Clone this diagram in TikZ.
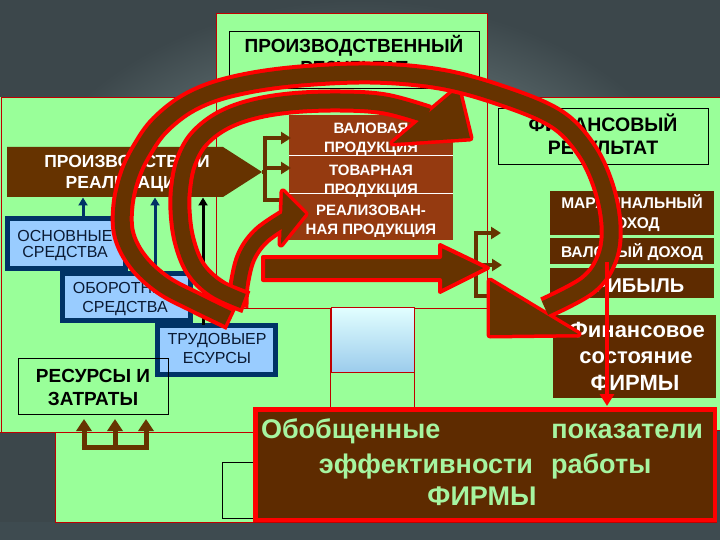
\documentclass[tikz,border=0pt]{standalone}
\usepackage{fontspec}
\setmainfont{Liberation Sans}
\usetikzlibrary{arrows.meta}
\definecolor{grn}{HTML}{99FF99}
\definecolor{brn}{HTML}{663300}
\definecolor{brbox}{HTML}{5E2B00}
\definecolor{stk}{HTML}{953A10}
\definecolor{redc}{HTML}{FF0000}
\definecolor{pline}{HTML}{C00000}
\definecolor{lblue}{HTML}{99CCFF}
\definecolor{navyc}{HTML}{003366}
\definecolor{navytxt}{HTML}{0A1A33}
\definecolor{bgl}{HTML}{9AB0AE}
\definecolor{bgd}{HTML}{3C474B}
\definecolor{bgbot}{HTML}{3E4B50}
\definecolor{cyt}{HTML}{E2FFFF}
\definecolor{cyb}{HTML}{9CCCEC}
\definecolor{txtgr}{HTML}{A6F5A0}
\newcommand\myfs[1]{\fontsize{#1pt}{#1pt}\selectfont}
\newcommand\bandarrow[4]{%
  \draw[redc, line width=#1, shorten <=-3.5pt] plot[smooth, tension=0.6] coordinates {#3};
  \draw[redc, line width=7pt, line join=round] #4 -- cycle;
  \draw[brn, line width=#2] plot[smooth, tension=0.6] coordinates {#3};
  \fill[brn] #4 -- cycle;}
\tikzset{
  pl/.style={draw=pline, line width=0.8pt},
  thinbox/.style={draw=black, line width=0.8pt, inner sep=0pt, outer sep=0pt},
  bbox/.style={fill=lblue, draw=navyc, line width=5pt, inner sep=0pt, outer sep=0pt},
  brbx/.style={fill=brbox, inner sep=0pt, outer sep=0pt},
  stbx/.style={fill=stk, inner sep=0pt, outer sep=0pt},
  txt/.style={inner sep=0pt, outer sep=0pt, anchor=base},
  brk/.style={draw=brn, line width=4.5pt},
  brka/.style={brk, -{Triangle[length=10pt,width=12pt]}},
  bla/.style={line width=3pt, -{Triangle[length=8pt,width=9pt]}},
}
\begin{document}
\begin{tikzpicture}[x=1pt,y=-1pt]
\useasboundingbox (0,0) rectangle (720,540);
\shade[inner color=bgl, outer color=bgd] (0,0) rectangle (720,540);
\fill[bgbot] (0,522) rectangle (720,540);
% panels
\fill[grn] (0,97) rectangle (330,432);
\fill[grn] (216,13) rectangle (487,308);
\fill[grn] (487,97) rectangle (720,430);
\fill[grn] (55,300) rectangle (716,522);
\draw[pl] (1,432) -- (1,97) -- (216,97);
\draw[pl] (216,13) rectangle (487,308);
\draw[pl] (487,97) -- (720,97);
\draw[pl] (330,308) -- (330,432);
\draw[pl] (0,432) -- (255,432);
\draw[pl] (55,432) -- (55,522) -- (716,522) -- (716,430) -- (720,430);
% cyan box
\shade[top color=cyt, bottom color=cyb] (331,307) rectangle (414,372);
\draw[pl] (331,307) rectangle (414,372);
\draw[pl] (414,372) -- (414,408);
\node[thinbox, minimum width=40pt, minimum height=56pt] (hid) at (242,490) {};
% production result
\node[thinbox, minimum width=250pt, minimum height=57pt] (prodres) at (354,59.5) {};
\node[txt, font=\myfs{19}\bfseries] (pr1) at (354,53) {ПРОИЗВОДСТВЕННЫЙ};
\node[txt, font=\myfs{19}\bfseries] (pr2) at (354,75) {РЕЗУЛЬТАТ};
% pentagon
\fill[brn] (7,147) -- (223,147) -- (262,172) -- (223,197) -- (7,197) -- cycle;
\coordinate (ptip) at (262,172);
\node[txt, white, font=\myfs{17.5}\bfseries] (pz1) at (127,168) {ПРОИЗВОДСТВО И};
\node[txt, white, font=\myfs{17.5}\bfseries] (pz2) at (127,189) {РЕАЛИЗАЦИЯ};
% stacked boxes
\node[stbx, minimum width=164pt, minimum height=41pt] (val) at (371,135.5) {};
\node[stbx, minimum width=164pt, minimum height=38pt] (tov) at (371,175) {};
\node[stbx, minimum width=164pt, minimum height=46pt] (real) at (371,217) {};
\draw[white, line width=1pt] (val.south west) -- (val.south east);
\draw[white, line width=1pt] (tov.south west) -- (tov.south east);
\node[txt, white, font=\myfs{15}\bfseries] (v1) at (371,134) {ВАЛОВАЯ};
\node[txt, white, font=\myfs{15}\bfseries] (v2) at (371,153) {ПРОДУКЦИЯ};
\node[txt, white, font=\myfs{15}\bfseries] (t1) at (371,176) {ТОВАРНАЯ};
\node[txt, white, font=\myfs{15}\bfseries] (t2) at (371,195) {ПРОДУКЦИЯ};
\node[txt, white, font=\myfs{15}\bfseries] (r1) at (371,215) {РЕАЛИЗОВАН-};
\node[txt, white, font=\myfs{15}\bfseries] (r2) at (371,234) {НАЯ ПРОДУКЦИЯ};
% financial result
\node[thinbox, minimum width=210pt, minimum height=56pt] (finres) at (603,136) {};
\node[txt, font=\myfs{19.5}\bfseries] (f1) at (603,132) {ФИНАНСОВЫЙ};
\node[txt, font=\myfs{19.5}\bfseries] (f2) at (603,155) {РЕЗУЛЬТАТ};
% right boxes
\node[brbx, minimum width=164pt, minimum height=44pt] (marg) at (632,213) {};
\node[brbx, minimum width=164pt, minimum height=26pt] (valdoh) at (632,251) {};
\node[brbx, minimum width=164pt, minimum height=30pt] (prib) at (632,283) {};
\node[brbx, minimum width=163pt, minimum height=83pt] (finsost) at (634.5,356.5) {};
\node[txt, white, font=\myfs{15.5}\bfseries] (m1) at (632,209) {МАРЖИНАЛЬНЫЙ};
\node[txt, white, font=\myfs{15.5}\bfseries] (m2) at (632,229) {ДОХОД};
\node[txt, white, font=\myfs{15.5}\bfseries] (vd) at (632,258) {ВАЛОВЫЙ ДОХОД};
\node[txt, white, font=\myfs{20}\bfseries] (pb) at (632,292) {ПРИБЫЛЬ};
\node[txt, white, font=\myfs{22}\bfseries] (fs1) at (637,337) {Финансовое};
\node[txt, white, font=\myfs{22}\bfseries] (fs2) at (636,363) {состояние};
\node[txt, white, font=\myfs{22}\bfseries] (fs3) at (635,390) {ФИРМЫ};
% blue boxes
\node[bbox, minimum width=118pt, minimum height=50pt] (osn) at (66.5,243.5) {};
\node[txt, navytxt, font=\myfs{16}] (o1) at (65,241) {ОСНОВНЫЕ};
\node[txt, navytxt, font=\myfs{16}] (o2) at (65,258) {СРЕДСТВА};
\node[bbox, minimum width=128pt, minimum height=47pt] (obor) at (126.5,297) {};
\node[txt, navytxt, font=\myfs{16}] (ob1) at (125,293) {ОБОРОТНЫЕ};
\node[txt, navytxt, font=\myfs{16}] (ob2) at (125,312) {СРЕДСТВА};
\node[bbox, minimum width=118pt, minimum height=49pt] (trud) at (216.5,350) {};
\node[txt, navytxt, font=\myfs{16}] (tr1) at (217,344) {ТРУДОВЫЕР};
\node[txt, navytxt, font=\myfs{16}] (tr2) at (217,363) {ЕСУРСЫ};
% resources
\node[thinbox, minimum width=150pt, minimum height=56pt] (res) at (93,386) {};
\node[txt, font=\myfs{19}\bfseries] (rs1) at (93,382) {РЕСУРСЫ И};
\node[txt, font=\myfs{19}\bfseries] (rs2) at (93,405) {ЗАТРАТЫ};
% blue arrows
\draw[bla, navyc] (83,218) -- (83,197.5);
\draw[bla, navyc] (155,273) -- (155,197.5);
\draw[bla, black] (203,325) -- (203,197.5);
% bracket 1
\draw[brk] (ptip) -- (265,172);
\draw[brk] (265,135.75) -- (265,202.25);
\draw[brka] (262.75,138) -- (291,138);
\draw[brka] (265,168) -- (291,168);
\draw[brka] (262.75,200) -- (291,200);
% bracket 2
\draw[brk] (476,230.75) -- (476,298.25);
\draw[brka] (473.75,233) -- (501,233);
\draw[brka] (476,265) -- (502,265);
\draw[brk] (473.75,296) -- (489,296);
% bottom bracket
\draw[brk, line width=5pt] (81.5,447) -- (148.5,447);
\draw[brk, line width=5pt, -{Triangle[length=12pt,width=15pt]}] (84,449.5) -- (84,419);
\draw[brk, line width=5pt, -{Triangle[length=12pt,width=15pt]}] (115,449.5) -- (115,419);
\draw[brk, line width=5pt, -{Triangle[length=12pt,width=15pt]}] (146,449.5) -- (146,419);
% general box
\node[fill=brbox, draw=redc, line width=4.5pt, minimum width=459.5pt, minimum height=110.5pt, inner sep=0pt, outer sep=0pt] (gen) at (485,464.5) {};
\node[txt, anchor=base west, txtgr, font=\myfs{27}\bfseries] (g1) at (261,438) {Обобщенные};
\node[txt, anchor=base east, txtgr, font=\myfs{27}\bfseries] (g2) at (703,438) {показатели};
\node[txt, anchor=base east, txtgr, font=\myfs{27}\bfseries] (g3) at (533,473) {эффективности};
\node[txt, anchor=base west, txtgr, font=\myfs{27}\bfseries] (g4) at (551,473) {работы};
\node[txt, txtgr, font=\myfs{27}\bfseries] (g5) at (482,505) {ФИРМЫ};
% band arrows
\bandarrow{21pt}{13pt}{(238,304) (240,280) (247,255) (262,235) (287,218)}{(283,192) -- (305,214) -- (281,244)}
\bandarrow{23pt}{15pt}{(243,301) (215,288) (195,268) (184,240) (180,210) (181,185) (186,162) (198,140) (220,122) (250,110) (290,103) (340,101) (385,104) (428,116)}{(458,88) -- (470,138) -- (393,143)}
\bandarrow{23pt}{15pt}{(228,318) (195,302) (163,285) (138,262) (124,235) (123,205) (130,175) (142,150) (160,125) (190,102) (230,87) (290,77) (370,73) (440,79) (500,95) (555,118) (585,148) (603,185) (611,225) (607,258) (588,285) (545,308)}{(490,281) -- (490,335) -- (578,334)}
% straight arrow
\draw[redc, line width=4pt, line join=round, fill=brn] (263,257) -- (440,257) -- (440,245) -- (488,268) -- (440,292) -- (440,280) -- (263,280) -- cycle;
% thin red arrow
\draw[redc, line width=4pt, -{Triangle[length=12pt,width=14pt]}] (607,262) -- (607,406);
\end{tikzpicture}
\end{document}
